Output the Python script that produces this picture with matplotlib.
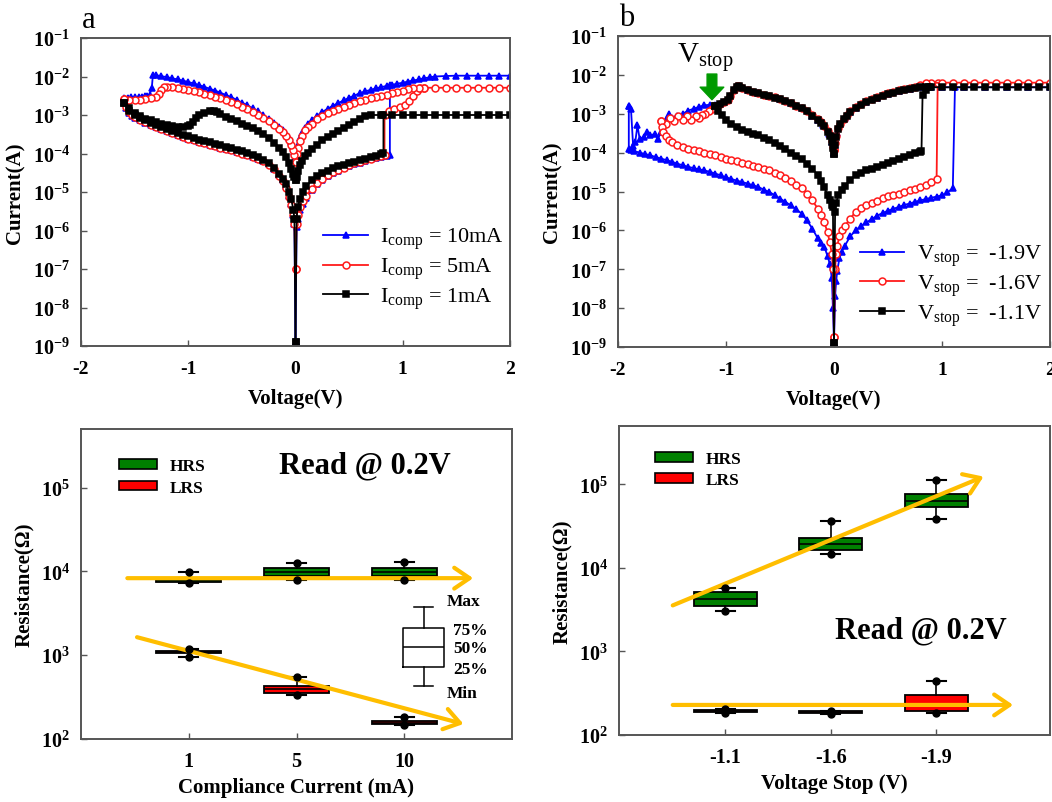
import matplotlib
matplotlib.use("Agg")
import matplotlib.pyplot as plt
from matplotlib.ticker import FixedLocator, FuncFormatter, NullLocator
from matplotlib.patches import Patch
import numpy as np

plt.rcParams.update({
    "font.family": ["Liberation Serif", "DejaVu Serif"],
    "mathtext.fontset": "custom",
    "mathtext.rm": "Liberation Serif",
    "mathtext.it": "Liberation Serif:italic",
    "mathtext.bf": "Liberation Serif:bold",
    "axes.unicode_minus": False,
})

# ---------------- Panel a data: (V, I) pairs ----------------
A10_SET = [(0.0,1.3e-9),(0.01,1.2e-6),(0.02,2e-6),(0.04,3.5e-6),(0.07,5e-6),(0.1,7e-6),(0.15,1.1e-5),(0.2,1.6e-5),(0.25,2.1e-5),(0.3,2.6e-5),(0.35,3.1e-5),(0.4,3.6e-5),(0.45,4.1e-5),(0.5,4.6e-5),(0.55,5.2e-5),(0.6,5.8e-5),(0.65,6.4e-5),(0.7,7e-5),(0.75,7.6e-5),(0.8,8.2e-5),(0.85,8.7e-5),(0.88,9e-5),(0.88,5.9e-3)]
A10_ON = [(2.0,1.05e-2),(1.9,1.05e-2),(1.8,1.05e-2),(1.7,1.05e-2),(1.6,1.05e-2),(1.5,1.05e-2),(1.4,1.03e-2),(1.3,1e-2),(1.25,9.5e-3),(1.2,9e-3),(1.15,8.4e-3),(1.1,7.9e-3),(1.05,7.4e-3),(1.0,6.9e-3),(0.95,6.5e-3),(0.9,6.1e-3),(0.85,5.7e-3),(0.8,5.3e-3),(0.75,4.9e-3),(0.7,4.5e-3),(0.65,4.1e-3),(0.6,3.7e-3),(0.55,3.2e-3),(0.5,2.8e-3),(0.45,2.4e-3),(0.4,2.05e-3),(0.35,1.75e-3),(0.3,1.45e-3),(0.25,1.2e-3),(0.2,9.5e-4),(0.15,7.5e-4),(0.12,6e-4),(0.09,4.7e-4),(0.06,3.5e-4),(0.04,2.6e-4),(0.02,1.7e-4),(0.01,1.2e-4),(0.0,8e-5)]
A10_RESET = [(0.0,8e-5),(-0.01,1.1e-4),(-0.02,1.5e-4),(-0.04,2e-4),(-0.06,2.5e-4),(-0.09,3.2e-4),(-0.12,4e-4),(-0.15,4.8e-4),(-0.2,6.2e-4),(-0.25,8e-4),(-0.3,1e-3),(-0.35,1.25e-3),(-0.4,1.5e-3),(-0.45,1.8e-3),(-0.5,2.1e-3),(-0.55,2.5e-3),(-0.6,2.9e-3),(-0.65,3.3e-3),(-0.7,3.8e-3),(-0.75,4.3e-3),(-0.8,4.8e-3),(-0.85,5.4e-3),(-0.9,6e-3),(-0.95,6.6e-3),(-1.0,7.2e-3),(-1.05,7.8e-3),(-1.1,8.4e-3),(-1.15,9e-3),(-1.2,9.6e-3),(-1.25,1.02e-2),(-1.3,1.08e-2),(-1.33,1.08e-2),(-1.34,5e-3),(-1.36,3.4e-3),(-1.38,3.2e-3),(-1.4,3.1e-3),(-1.43,3e-3),(-1.46,3e-3),(-1.5,2.9e-3),(-1.53,2.9e-3),(-1.56,2.8e-3),(-1.6,2.8e-3)]
A10_OFF = [(-1.6,2.2e-3),(-1.58,1.5e-3),(-1.55,1.15e-3),(-1.52,9.5e-4),(-1.5,8.5e-4),(-1.45,7.2e-4),(-1.4,6.3e-4),(-1.35,5.5e-4),(-1.3,4.9e-4),(-1.25,4.3e-4),(-1.2,3.9e-4),(-1.15,3.4e-4),(-1.1,3e-4),(-1.05,2.7e-4),(-1.0,2.4e-4),(-0.95,2.2e-4),(-0.9,2e-4),(-0.85,1.85e-4),(-0.8,1.7e-4),(-0.75,1.55e-4),(-0.7,1.42e-4),(-0.65,1.3e-4),(-0.6,1.2e-4),(-0.55,1.1e-4),(-0.5,1.02e-4),(-0.45,9.2e-5),(-0.4,8.3e-5),(-0.35,7.3e-5),(-0.3,6.3e-5),(-0.25,5.2e-5),(-0.2,4e-5),(-0.15,2.7e-5),(-0.12,2e-5),(-0.09,1.4e-5),(-0.06,8e-6),(-0.04,5e-6),(-0.02,2.5e-6),(-0.01,1.5e-6),(0.0,1.3e-9)]

A5_SET = [(0.0,1e-7),(0.01,1.5e-6),(0.02,2.5e-6),(0.04,4e-6),(0.07,6e-6),(0.1,8e-6),(0.15,1.2e-5),(0.2,1.7e-5),(0.25,2.2e-5),(0.3,2.8e-5),(0.35,3.3e-5),(0.4,3.8e-5),(0.45,4.3e-5),(0.5,4.9e-5),(0.55,5.5e-5),(0.6,6.1e-5),(0.65,6.7e-5),(0.7,7.3e-5),(0.75,8e-5),(0.8,8.7e-5),(0.83,9.2e-5),(0.83,1e-3),(0.87,1.3e-3),(0.92,1.45e-3),(0.97,1.6e-3),(1.02,1.8e-3),(1.06,2.3e-3),(1.1,3.2e-3),(1.13,4.2e-3),(1.16,5e-3),(1.2,5.1e-3)]
A5_ON = [(2.0,5.1e-3),(1.9,5.1e-3),(1.8,5.1e-3),(1.7,5.1e-3),(1.6,5.1e-3),(1.5,5.1e-3),(1.4,5.1e-3),(1.3,5.1e-3),(1.2,5.1e-3),(1.15,5.1e-3),(1.1,4.9e-3),(1.05,4.6e-3),(1.0,4.3e-3),(0.95,4e-3),(0.9,3.7e-3),(0.85,3.4e-3),(0.8,3.2e-3),(0.75,2.9e-3),(0.7,2.7e-3),(0.65,2.5e-3),(0.6,2.25e-3),(0.55,2.05e-3),(0.5,1.85e-3),(0.45,1.65e-3),(0.4,1.45e-3),(0.35,1.28e-3),(0.3,1.1e-3),(0.25,9.3e-4),(0.2,7.7e-4),(0.15,6e-4),(0.12,5e-4),(0.09,4e-4),(0.06,2.9e-4),(0.04,2.1e-4),(0.02,1.4e-4),(0.01,1e-4),(0.0,6e-5)]
A5_RESET = [(0.0,6e-5),(-0.01,9e-5),(-0.02,1.2e-4),(-0.04,1.7e-4),(-0.06,2.2e-4),(-0.09,2.9e-4),(-0.12,3.6e-4),(-0.15,4.3e-4),(-0.2,5.5e-4),(-0.25,7e-4),(-0.3,8.5e-4),(-0.35,1.02e-3),(-0.4,1.2e-3),(-0.45,1.4e-3),(-0.5,1.65e-3),(-0.55,1.9e-3),(-0.6,2.15e-3),(-0.65,2.4e-3),(-0.7,2.7e-3),(-0.75,3e-3),(-0.8,3.3e-3),(-0.85,3.6e-3),(-0.9,3.9e-3),(-0.95,4.2e-3),(-1.0,4.5e-3),(-1.05,4.8e-3),(-1.1,5e-3),(-1.15,5.2e-3),(-1.2,5.3e-3),(-1.23,5.3e-3),(-1.25,4.5e-3),(-1.27,3.5e-3),(-1.3,3e-3),(-1.35,2.8e-3),(-1.4,2.6e-3),(-1.45,2.5e-3),(-1.5,2.45e-3),(-1.55,2.5e-3),(-1.6,2.6e-3)]
A5_OFF = [(-1.6,2.6e-3),(-1.58,1.6e-3),(-1.55,1.2e-3),(-1.52,1e-3),(-1.5,8.8e-4),(-1.45,7.4e-4),(-1.4,6.4e-4),(-1.35,5.6e-4),(-1.3,5e-4),(-1.25,4.4e-4),(-1.2,3.9e-4),(-1.15,3.45e-4),(-1.1,3.05e-4),(-1.05,2.75e-4),(-1.0,2.45e-4),(-0.95,2.2e-4),(-0.9,2e-4),(-0.85,1.85e-4),(-0.8,1.7e-4),(-0.75,1.55e-4),(-0.7,1.42e-4),(-0.65,1.3e-4),(-0.6,1.2e-4),(-0.55,1.1e-4),(-0.5,1e-4),(-0.45,9e-5),(-0.4,8.2e-5),(-0.35,7.2e-5),(-0.3,6.2e-5),(-0.25,5.1e-5),(-0.2,3.9e-5),(-0.15,2.6e-5),(-0.12,1.9e-5),(-0.09,1.3e-5),(-0.06,7.5e-6),(-0.04,4.5e-6),(-0.02,2.5e-6),(-0.01,1.5e-6),(0.0,1e-7)]

A1_SET = [(0.0,1.3e-9),(0.01,2e-6),(0.02,4e-6),(0.04,6.5e-6),(0.07,1e-5),(0.1,1.4e-5),(0.15,2e-5),(0.2,2.6e-5),(0.25,3.1e-5),(0.3,3.6e-5),(0.35,4.1e-5),(0.4,4.6e-5),(0.45,5.1e-5),(0.5,5.6e-5),(0.55,6.1e-5),(0.6,6.7e-5),(0.65,7.3e-5),(0.7,8e-5),(0.75,8.8e-5),(0.8,9.8e-5),(0.82,1.05e-4),(0.82,1e-3)]
A1_ON = [(2.0,1e-3),(1.9,1e-3),(1.8,1e-3),(1.7,1e-3),(1.6,1e-3),(1.5,1e-3),(1.4,1e-3),(1.3,1e-3),(1.2,1e-3),(1.1,1e-3),(1.0,1e-3),(0.9,1e-3),(0.8,1e-3),(0.7,1e-3),(0.65,9.5e-4),(0.6,8e-4),(0.55,6.6e-4),(0.5,5.5e-4),(0.45,4.6e-4),(0.4,3.9e-4),(0.35,3.3e-4),(0.3,2.7e-4),(0.25,2.2e-4),(0.2,1.7e-4),(0.15,1.3e-4),(0.12,1.05e-4),(0.09,8.5e-5),(0.06,6.5e-5),(0.04,5e-5),(0.02,3.5e-5),(0.01,2.5e-5),(0.0,2e-5)]
A1_RESET = [(0.0,2e-5),(-0.01,2.5e-5),(-0.02,3e-5),(-0.04,4e-5),(-0.06,5.5e-5),(-0.09,8e-5),(-0.12,1.1e-4),(-0.15,1.4e-4),(-0.2,1.9e-4),(-0.25,2.5e-4),(-0.3,3.2e-4),(-0.35,3.8e-4),(-0.4,4.5e-4),(-0.45,5.2e-4),(-0.5,6e-4),(-0.55,6.8e-4),(-0.6,7.8e-4),(-0.65,9e-4),(-0.7,1.05e-3),(-0.73,1.2e-3),(-0.76,1.3e-3),(-0.8,1.25e-3),(-0.85,1.15e-3),(-0.9,1e-3),(-0.93,8.5e-4),(-0.96,6.5e-4),(-0.98,5.5e-4),(-1.0,5.3e-4),(-1.05,5e-4),(-1.1,5e-4),(-1.15,5.2e-4),(-1.2,5.5e-4),(-1.25,6e-4),(-1.3,6.5e-4),(-1.35,7.2e-4),(-1.4,8e-4),(-1.45,9.5e-4),(-1.5,1.15e-3),(-1.55,1.5e-3),(-1.6,2e-3)]
A1_OFF = [(-1.6,2e-3),(-1.55,1.3e-3),(-1.5,1e-3),(-1.45,8.5e-4),(-1.4,7.3e-4),(-1.35,6.3e-4),(-1.3,5.5e-4),(-1.25,4.8e-4),(-1.2,4.3e-4),(-1.15,3.8e-4),(-1.1,3.4e-4),(-1.05,3.1e-4),(-1.0,2.8e-4),(-0.95,2.55e-4),(-0.9,2.3e-4),(-0.85,2.1e-4),(-0.8,1.95e-4),(-0.75,1.8e-4),(-0.7,1.65e-4),(-0.65,1.5e-4),(-0.6,1.38e-4),(-0.55,1.26e-4),(-0.5,1.15e-4),(-0.45,1.03e-4),(-0.4,9.2e-5),(-0.35,8e-5),(-0.3,6.8e-5),(-0.25,5.6e-5),(-0.2,4.3e-5),(-0.15,3e-5),(-0.12,2.2e-5),(-0.09,1.6e-5),(-0.06,1e-5),(-0.04,6.5e-6),(-0.02,3.5e-6),(-0.01,2e-6),(0.0,1.3e-9)]

# ---------------- Panel b data ----------------
B11_SET = [(0.0,1.3e-9),(0.01,3e-6),(0.02,5e-6),(0.04,8e-6),(0.07,1.1e-5),(0.1,1.4e-5),(0.15,2e-5),(0.2,2.6e-5),(0.25,3e-5),(0.3,3.5e-5),(0.35,3.9e-5),(0.4,4.3e-5),(0.45,4.9e-5),(0.5,5.5e-5),(0.55,6.2e-5),(0.6,7e-5),(0.65,7.7e-5),(0.7,8.5e-5),(0.75,9.5e-5),(0.8,1.05e-4),(0.81,1.1e-4),(0.82,3e-3),(0.85,4e-3),(0.88,4.8e-3)]
B11_ON = [(2.0,4.8e-3),(1.9,4.8e-3),(1.8,4.8e-3),(1.7,4.8e-3),(1.6,4.8e-3),(1.5,4.8e-3),(1.4,4.8e-3),(1.3,4.8e-3),(1.2,4.8e-3),(1.1,4.8e-3),(1.0,4.8e-3),(0.9,4.8e-3),(0.85,5e-3),(0.8,5e-3),(0.75,4.7e-3),(0.7,4.4e-3),(0.65,4.1e-3),(0.6,3.8e-3),(0.55,3.5e-3),(0.5,3.2e-3),(0.45,2.9e-3),(0.4,2.6e-3),(0.35,2.3e-3),(0.3,2e-3),(0.25,1.7e-3),(0.2,1.4e-3),(0.15,1.1e-3),(0.12,9e-4),(0.09,7.2e-4),(0.06,5.4e-4),(0.04,4e-4),(0.02,2.5e-4),(0.01,1.6e-4),(0.0,9e-5)]
B11_RESET = [(0.0,9e-5),(-0.01,1.3e-4),(-0.02,1.9e-4),(-0.04,2.7e-4),(-0.06,3.4e-4),(-0.09,4.7e-4),(-0.12,5.8e-4),(-0.15,7e-4),(-0.2,9e-4),(-0.25,1.15e-3),(-0.3,1.4e-3),(-0.35,1.6e-3),(-0.4,1.85e-3),(-0.45,2.1e-3),(-0.5,2.35e-3),(-0.55,2.6e-3),(-0.6,2.85e-3),(-0.65,3.1e-3),(-0.7,3.4e-3),(-0.75,3.7e-3),(-0.8,4e-3),(-0.85,4.5e-3),(-0.88,5.1e-3),(-0.9,5e-3),(-0.93,4e-3),(-0.96,2.8e-3),(-0.98,2.2e-3),(-1.02,2e-3),(-1.06,1.8e-3),(-1.1,1.6e-3)]
B11_OFF = [(-1.1,1.6e-3),(-1.07,1.2e-3),(-1.04,9.5e-4),(-1.0,7e-4),(-0.95,5.6e-4),(-0.9,4.6e-4),(-0.85,3.9e-4),(-0.8,3.4e-4),(-0.75,3.1e-4),(-0.7,2.8e-4),(-0.65,2.4e-4),(-0.6,2.1e-4),(-0.55,1.8e-4),(-0.5,1.5e-4),(-0.45,1.25e-4),(-0.4,1e-4),(-0.35,8.2e-5),(-0.3,6.8e-5),(-0.25,5.2e-5),(-0.2,3.9e-5),(-0.15,2.6e-5),(-0.12,1.9e-5),(-0.09,1.3e-5),(-0.06,7.9e-6),(-0.04,6e-6),(-0.02,4.5e-6),(-0.01,4e-6),(0.0,1.3e-9)]

B16_SET = [(0.0,1.8e-9),(0.01,1e-7),(0.02,2.5e-7),(0.03,4e-7),(0.05,7e-7),(0.07,1e-6),(0.1,1.3e-6),(0.15,2e-6),(0.2,3e-6),(0.25,3.8e-6),(0.3,4.6e-6),(0.35,5.2e-6),(0.4,5.8e-6),(0.45,6.8e-6),(0.5,7.8e-6),(0.55,8.3e-6),(0.6,8.8e-6),(0.65,9.7e-6),(0.7,1.07e-5),(0.75,1.18e-5),(0.8,1.3e-5),(0.85,1.5e-5),(0.9,1.8e-5),(0.95,2.1e-5),(0.96,6.3e-3)]
B16_ON = [(2.0,6.3e-3),(1.9,6.3e-3),(1.8,6.3e-3),(1.7,6.3e-3),(1.6,6.3e-3),(1.5,6.3e-3),(1.4,6.3e-3),(1.3,6.3e-3),(1.2,6.3e-3),(1.1,6.3e-3),(1.0,6.3e-3),(0.9,6.2e-3),(0.85,6e-3),(0.8,5.4e-3),(0.75,5e-3),(0.7,4.7e-3),(0.65,4.35e-3),(0.6,4e-3),(0.55,3.7e-3),(0.5,3.35e-3),(0.45,3.05e-3),(0.4,2.75e-3),(0.35,2.4e-3),(0.3,2.1e-3),(0.25,1.8e-3),(0.2,1.45e-3),(0.15,1.15e-3),(0.12,9.5e-4),(0.09,7.5e-4),(0.06,5.6e-4),(0.04,4.2e-4),(0.02,2.7e-4),(0.01,1.8e-4),(0.0,1.2e-4)]
B16_RESET = [(0.0,1.2e-4),(-0.01,1.4e-4),(-0.02,2e-4),(-0.04,2.8e-4),(-0.06,3.5e-4),(-0.09,4.8e-4),(-0.12,6e-4),(-0.15,7.2e-4),(-0.2,9.2e-4),(-0.25,1.17e-3),(-0.3,1.42e-3),(-0.35,1.62e-3),(-0.4,1.87e-3),(-0.45,2.12e-3),(-0.5,2.37e-3),(-0.55,2.62e-3),(-0.6,2.87e-3),(-0.65,3.12e-3),(-0.7,3.42e-3),(-0.75,3.72e-3),(-0.8,4.02e-3),(-0.85,4.5e-3),(-0.88,5.2e-3),(-0.9,5.1e-3),(-0.93,4e-3),(-0.96,2.8e-3),(-0.98,2.2e-3),(-1.02,2e-3),(-1.06,1.8e-3),(-1.1,1.6e-3),(-1.13,1.35e-3),(-1.16,1.15e-3),(-1.19,1e-3),(-1.22,9.5e-4),(-1.25,8e-4),(-1.28,9e-4),(-1.32,7e-4),(-1.36,8.5e-4),(-1.4,7e-4),(-1.44,9e-4),(-1.48,6.5e-4),(-1.52,8e-4),(-1.56,5.5e-4),(-1.6,6.5e-4)]
B16_OFF = [(-1.6,6.5e-4),(-1.59,4.5e-4),(-1.58,3.3e-4),(-1.56,2.6e-4),(-1.53,2.1e-4),(-1.5,1.9e-4),(-1.45,1.6e-4),(-1.4,1.4e-4),(-1.35,1.25e-4),(-1.3,1.15e-4),(-1.25,1.07e-4),(-1.2,1e-4),(-1.15,9.2e-5),(-1.1,8.5e-5),(-1.05,7.7e-5),(-1.0,7e-5),(-0.95,6.5e-5),(-0.9,6e-5),(-0.85,5.5e-5),(-0.8,5e-5),(-0.75,4.6e-5),(-0.7,4.2e-5),(-0.65,3.8e-5),(-0.6,3.5e-5),(-0.55,3e-5),(-0.5,2.6e-5),(-0.45,2.2e-5),(-0.4,1.9e-5),(-0.35,1.5e-5),(-0.3,1.2e-5),(-0.25,8.8e-6),(-0.2,5.9e-6),(-0.15,3.6e-6),(-0.12,2.5e-6),(-0.09,1.6e-6),(-0.06,9e-7),(-0.04,5e-7),(-0.02,2.5e-7),(-0.01,1e-7),(0.0,1.8e-9)]

B19_SET = [(0.0,1.3e-9),(0.01,2e-8),(0.02,5e-8),(0.03,9e-8),(0.05,1.9e-7),(0.07,2.8e-7),(0.1,4e-7),(0.15,7e-7),(0.2,1e-6),(0.25,1.3e-6),(0.3,1.6e-6),(0.35,1.95e-6),(0.4,2.4e-6),(0.45,2.8e-6),(0.5,3.2e-6),(0.55,3.6e-6),(0.6,4e-6),(0.65,4.5e-6),(0.7,4.9e-6),(0.75,5.4e-6),(0.8,5.9e-6),(0.85,6.4e-6),(0.9,6.9e-6),(0.95,7.4e-6),(1.0,8e-6),(1.05,9.5e-6),(1.1,1.2e-5),(1.12,4.8e-3)]
B19_ON = [(2.0,4.8e-3),(1.8,4.8e-3),(1.6,4.8e-3),(1.4,4.8e-3),(1.2,4.8e-3),(1.0,4.8e-3),(0.9,4.9e-3),(0.8,5e-3),(0.7,4.4e-3),(0.6,3.8e-3),(0.5,3.2e-3),(0.4,2.6e-3),(0.3,2e-3),(0.2,1.4e-3),(0.15,1.1e-3),(0.1,8e-4),(0.06,5.4e-4),(0.03,3.2e-4),(0.01,1.6e-4),(0.0,1e-4)]
B19_RESET = [(0.0,1e-4),(-0.02,1.9e-4),(-0.05,3.1e-4),(-0.1,5.2e-4),(-0.15,7e-4),(-0.2,9e-4),(-0.3,1.4e-3),(-0.4,1.85e-3),(-0.5,2.35e-3),(-0.6,2.85e-3),(-0.7,3.4e-3),(-0.8,4e-3),(-0.88,5.1e-3),(-0.93,4e-3),(-0.98,2.2e-3),(-1.05,1.9e-3),(-1.1,1.7e-3),(-1.15,1.7e-3),(-1.2,1.65e-3),(-1.25,1.5e-3),(-1.3,1.35e-3),(-1.35,1.2e-3),(-1.4,1e-3),(-1.45,9e-4),(-1.5,8e-4),(-1.53,1e-3),(-1.56,7e-4),(-1.6,3.4e-4),(-1.63,2.3e-4),(-1.66,3e-4),(-1.7,2.8e-4),(-1.73,3.4e-4),(-1.76,2.5e-4),(-1.8,2.3e-4),(-1.82,5e-4),(-1.84,1.9e-4),(-1.86,1.5e-4),(-1.88,1.35e-3),(-1.9,1.6e-3)]
B19_OFF = [(-1.9,1.6e-3),(-1.9,1.25e-4),(-1.88,1.15e-4),(-1.85,1.1e-4),(-1.8,1e-4),(-1.75,9.2e-5),(-1.7,8.5e-5),(-1.65,7.7e-5),(-1.6,7e-5),(-1.55,6.4e-5),(-1.5,5.8e-5),(-1.45,5.2e-5),(-1.4,4.7e-5),(-1.35,4.3e-5),(-1.3,4e-5),(-1.25,3.7e-5),(-1.2,3.5e-5),(-1.15,3.2e-5),(-1.1,2.9e-5),(-1.05,2.6e-5),(-1.0,2.3e-5),(-0.95,2.1e-5),(-0.9,1.9e-5),(-0.85,1.75e-5),(-0.8,1.6e-5),(-0.75,1.45e-5),(-0.7,1.3e-5),(-0.65,1.12e-5),(-0.6,9.7e-6),(-0.55,8.1e-6),(-0.5,6.6e-6),(-0.45,5.4e-6),(-0.4,4.4e-6),(-0.35,3.5e-6),(-0.3,2.7e-6),(-0.25,1.8e-6),(-0.2,1.1e-6),(-0.15,6.2e-7),(-0.12,4.8e-7),(-0.09,3.8e-7),(-0.06,2.2e-7),(-0.04,1.4e-7),(-0.02,6e-8),(-0.01,1e-8),(0.0,1.3e-9)]

# ---------------- Box-plot data ----------------
C_CATS = ["1", "5", "10"]
C_HRS_MIN = [7.2e3, 7.9e3, 7.9e3]
C_HRS_Q1 = [7.5e3, 8.9e3, 8.9e3]
C_HRS_MED = [7.8e3, 9.8e3, 9.8e3]
C_HRS_Q3 = [8.1e3, 1.11e4, 1.11e4]
C_HRS_MAX = [9.7e3, 1.25e4, 1.3e4]
C_LRS_MIN = [9.6e2, 3.36e2, 1.47e2]
C_LRS_Q1 = [1.06e3, 3.52e2, 1.53e2]
C_LRS_MED = [1.09e3, 3.93e2, 1.57e2]
C_LRS_Q3 = [1.12e3, 4.3e2, 1.62e2]
C_LRS_MAX = [1.2e3, 5.5e2, 1.81e2]

D_CATS = ["-1.1", "-1.6", "-1.9"]
D_HRS_MIN = [3.05e3, 1.46e4, 3.8e4]
D_HRS_Q1 = [3.5e3, 1.63e4, 5.3e4]
D_HRS_MED = [4.2e3, 1.96e4, 6.4e4]
D_HRS_Q3 = [5.15e3, 2.29e4, 7.6e4]
D_HRS_MAX = [5.8e3, 3.66e4, 1.14e5]
D_LRS_MIN = [1.82e2, 1.78e2, 1.82e2]
D_LRS_Q1 = [1.9e2, 1.82e2, 1.96e2]
D_LRS_MED = [1.94e2, 1.87e2, 2.3e2]
D_LRS_Q3 = [1.98e2, 1.92e2, 3.05e2]
D_LRS_MAX = [2.05e2, 1.95e2, 4.49e2]

# schematic legend box (Max / 75% / 50% / 25% / Min)
KEY_BOX = dict(whislo=427, q1=730, med=1.26e3, q3=2.1e3, whishi=3.8e3)

BLUE, RED, BLACK = "#0000FF", "#FF1A1A", "#000000"
GREEN_BOX, RED_BOX = "#008000", "#FF0000"
ORANGE = "#FFBE00"
SPINE = "#555555"

fig = plt.figure(figsize=(10.52, 8.03), dpi=100)
axA = fig.add_axes([81/1052, 1-347/803, 429/1052, 308/803])
axB = fig.add_axes([618/1052, 1-348/803, 432/1052, 311/803])
axC = fig.add_axes([81/1052, 1-740/803, 431/1052, 310/803])
axD = fig.add_axes([619/1052, 1-736/803, 431/1052, 309/803])

def pow_fmt(v, pos):
    return r"$\mathbf{10^{%d}}$" % int(round(np.log10(v)))

def style(ax, xpad, ypad):
    for s in ax.spines.values():
        s.set_color(SPINE)
        s.set_linewidth(1.4)
    ax.tick_params(which="both", direction="in", length=4, width=1, color=SPINE,
                   top=False, right=False)
    ax.tick_params(axis="x", pad=xpad, labelsize=14)
    ax.tick_params(axis="y", pad=ypad, labelsize=14.5)
    ax.yaxis.set_minor_locator(NullLocator())
    ax.xaxis.set_minor_locator(NullLocator())

def draw_iv(ax, branches, color, marker, mfc, label):
    for k, br in enumerate(branches):
        v, i = zip(*br)
        ax.plot(v, i, color=color, lw=1.3, marker=marker, ms=5, mfc=mfc,
                mec=color, mew=1.1, label=label if k == 0 else "_nolegend_")

def iv_axes(ax):
    ax.set_yscale("log")
    ax.set_xlim(-2, 2)
    ax.set_ylim(1e-9, 1e-1)
    ax.yaxis.set_major_locator(FixedLocator([10.0**e for e in range(-9, 0)]))
    ax.yaxis.set_major_formatter(FuncFormatter(pow_fmt))
    ax.xaxis.set_major_locator(FixedLocator([-2, -1, 0, 1, 2]))
    ax.xaxis.set_major_formatter(FuncFormatter(lambda v, p: "%d" % v))
    style(ax, 10, 8)
    ax.set_xlabel("Voltage(V)", fontsize=15, fontweight="bold", labelpad=8)
    ax.set_ylabel("Current(A)", fontsize=15, fontweight="bold", labelpad=5)

# ---------- panel a ----------
iv_axes(axA)
draw_iv(axA, [A10_SET, A10_ON, A10_RESET, A10_OFF], BLUE, "^", BLUE, r"I$_{\mathrm{comp}}$ = 10mA")
draw_iv(axA, [A5_SET, A5_ON, A5_RESET, A5_OFF], RED, "o", "white", r"I$_{\mathrm{comp}}$ = 5mA")
draw_iv(axA, [A1_SET, A1_ON, A1_RESET, A1_OFF], BLACK, "s", BLACK, r"I$_{\mathrm{comp}}$ = 1mA")
axA.legend(loc="upper left", bbox_to_anchor=(0.565, 0.39), frameon=False, fontsize=16,
           handlelength=2.0, handletextpad=0.55, labelspacing=0.2, borderpad=0,
           borderaxespad=0, numpoints=1)

# ---------- panel b ----------
iv_axes(axB)
draw_iv(axB, [B19_SET, B19_ON, B19_RESET, B19_OFF], BLUE, "^", BLUE, r"V$_{\mathrm{stop}}$ =  -1.9V")
draw_iv(axB, [B16_SET, B16_ON, B16_RESET, B16_OFF], RED, "o", "white", r"V$_{\mathrm{stop}}$ =  -1.6V")
draw_iv(axB, [B11_SET, B11_ON, B11_RESET, B11_OFF], BLACK, "s", BLACK, r"V$_{\mathrm{stop}}$ =  -1.1V")
axB.legend(loc="upper left", bbox_to_anchor=(0.56, 0.335), frameon=False, fontsize=16,
           handlelength=2.0, handletextpad=0.55, labelspacing=0.2, borderpad=0,
           borderaxespad=0, numpoints=1)
axB.annotate("", xy=(-1.13, 2.3e-3), xytext=(-1.13, 1.05e-2),
             arrowprops=dict(facecolor="#009A00", edgecolor="#009A00", width=7,
                             headwidth=17, headlength=9, shrink=0))
axB.text(-1.19, 3.0e-2, r"V$_{\mathrm{stop}}$", fontsize=21, ha="center", va="center")

fig.text(89/1052, 1-28/803, "a", fontsize=22, ha="center", va="baseline")
fig.text(627/1052, 1-26/803, "b", fontsize=22, ha="center", va="baseline")

# ---------- box panels ----------
def box_panel(ax, cats, hrs, lrs, xlim, xlabel):
    ax.set_yscale("log")
    ax.set_xlim(*xlim)
    ax.set_ylim(1e2, 5e5)
    pos = list(range(len(cats)))
    for data, fc in ((hrs, GREEN_BOX), (lrs, RED_BOX)):
        mn, q1, md, q3, mx = data
        stats = [dict(whislo=mn[k], q1=q1[k], med=md[k], q3=q3[k], whishi=mx[k], fliers=[])
                 for k in pos]
        ax.bxp(stats, positions=pos, widths=0.6, patch_artist=True, showfliers=False,
               boxprops=dict(facecolor=fc, edgecolor="black", linewidth=1.3),
               medianprops=dict(color="black", linewidth=1.2),
               whiskerprops=dict(color="black", linewidth=1.2),
               capprops=dict(color="black", linewidth=1.5), capwidths=0.18,
               manage_ticks=False)
        ax.plot(pos, mx, "o", color="black", ms=5, zorder=5)
        ax.plot(pos, mn, "o", color="black", ms=5, zorder=5)
    ax.xaxis.set_major_locator(FixedLocator(pos))
    ax.set_xticklabels(cats)
    ax.yaxis.set_major_locator(FixedLocator([1e2, 1e3, 1e4, 1e5]))
    ax.yaxis.set_major_formatter(FuncFormatter(pow_fmt))
    style(ax, 9, 8)
    ax.tick_params(axis="x", labelsize=14.5)
    ax.set_xlabel(xlabel, fontsize=15, fontweight="bold", labelpad=4)
    ax.set_ylabel("Resistance(\u03a9)", fontsize=15, fontweight="bold", labelpad=5)
    handles = [Patch(facecolor=GREEN_BOX, edgecolor="black", linewidth=1.2),
               Patch(facecolor=RED_BOX, edgecolor="black", linewidth=1.2)]
    return handles

def trend(ax, start, end):
    ax.annotate("", xy=end, xytext=start,
                arrowprops=dict(arrowstyle="->,head_length=1.1,head_width=0.75",
                                color=ORANGE, lw=3, shrinkA=0, shrinkB=0))

hC = box_panel(axC, C_CATS,
               (C_HRS_MIN, C_HRS_Q1, C_HRS_MED, C_HRS_Q3, C_HRS_MAX),
               (C_LRS_MIN, C_LRS_Q1, C_LRS_MED, C_LRS_Q3, C_LRS_MAX),
               (-1, 3), "Compliance Current (mA)")
axC.legend(hC, ["HRS", "LRS"], loc="upper left", bbox_to_anchor=(0.088, 0.905),
           frameon=False, prop=dict(weight="bold", size=12.5), handlelength=2.2,
           handleheight=0.5, labelspacing=0.3, borderpad=0, borderaxespad=0,
           handletextpad=0.7)
trend(axC, (-0.57, 8.3e3), (2.64, 8.3e3))
trend(axC, (-0.48, 1.64e3), (2.55, 1.51e2))
axC.text(1.63, 1.84e5, "Read @ 0.2V", fontsize=22, fontweight="bold", ha="center", va="center")
axC.bxp([dict(fliers=[], **KEY_BOX)], positions=[2.18], widths=0.38, showfliers=False,
        boxprops=dict(color="black", linewidth=1.1), medianprops=dict(color="black", linewidth=1.1),
        whiskerprops=dict(color="black", linewidth=1.1), capprops=dict(color="black", linewidth=1.1),
        capwidths=0.18, manage_ticks=False)
for txt, x, y in (("Max", 2.39, 10**3.642), ("75%", 2.455, 10**3.30), ("50%", 2.455, 10**3.09),
                  ("25%", 2.455, 10**2.84), ("Min", 2.39, 10**2.546)):
    axC.text(x, y, txt, fontsize=12.5, fontweight="bold", ha="left", va="center")

hD = box_panel(axD, D_CATS,
               (D_HRS_MIN, D_HRS_Q1, D_HRS_MED, D_HRS_Q3, D_HRS_MAX),
               (D_LRS_MIN, D_LRS_Q1, D_LRS_MED, D_LRS_Q3, D_LRS_MAX),
               (-1.01, 3.08), "Voltage Stop (V)")
axD.legend(hD, ["HRS", "LRS"], loc="upper left", bbox_to_anchor=(0.084, 0.92),
           frameon=False, prop=dict(weight="bold", size=12.5), handlelength=2.2,
           handleheight=0.5, labelspacing=0.3, borderpad=0, borderaxespad=0,
           handletextpad=0.7)
trend(axD, (-0.5, 3.56e3), (2.45, 1.24e5))
trend(axD, (-0.5, 2.29e2), (2.73, 2.29e2))
axD.text(1.85, 1.79e3, "Read @ 0.2V", fontsize=22, fontweight="bold", ha="center", va="center")

for ax in (axA, axB, axC, axD):
    for lab in ax.get_yticklabels() + ax.get_xticklabels():
        lab.set_fontweight("bold")

fig.savefig("out.png", dpi=100)
